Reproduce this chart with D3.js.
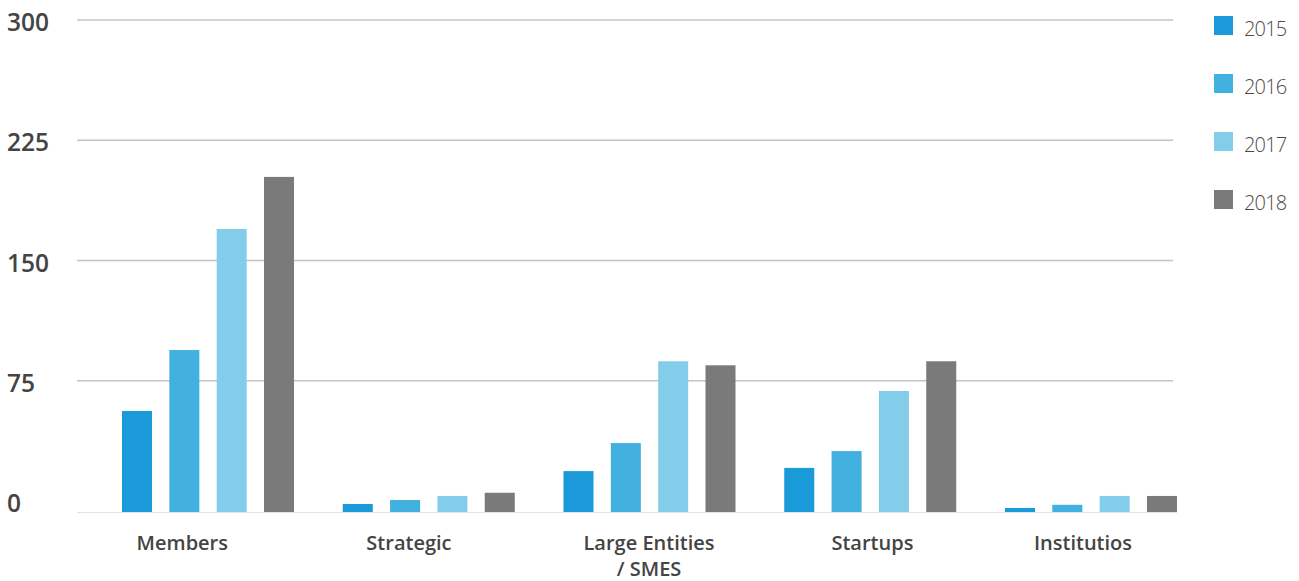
<!DOCTYPE html>
<html>
<head>
<meta charset="utf-8">
<script src="https://cdn.jsdelivr.net/npm/d3@7"></script>
<style>
  html, body { margin: 0; padding: 0; background: #ffffff; }
  svg { display: block; }
</style>
</head>
<body>
<svg id="chart" width="1299" height="581"></svg>
<script>
// Membership counts per category, one array per year
const categories = ["Members", "Strategic", "Large Entities\n/ SMES", "Startups", "Institutios"];
const years = ["2015", "2016", "2017", "2018"];
const values2015 = [63, 5, 25.5, 27.5, 2.5];
const values2016 = [101, 7.5, 43, 38, 4.5];
const values2017 = [176.5, 10, 94, 75.5, 10];
const values2018 = [209, 12, 91.5, 94, 10];
const yTicks = [0, 75, 150, 225, 300];
const colors = ["#1a9ad9", "#42b1e0", "#84cdea", "#7a7a7a"];

const series = [values2015, values2016, values2017, values2018];

const svg = d3.select("#chart");

const margin = { left: 77, right: 1222, top: 31, bottom: 512 };
const gridShift = -11;
// horizontal nudge of each category label relative to its group centre
const labelNudge = [-25.7, -19.8, -0.5, 2.2, -8];

const x0 = d3.scaleBand()
  .domain(categories)
  .range([margin.left, margin.right])
  .paddingInner(0.2208)
  .paddingOuter(0.2039);

const x1 = d3.scaleBand()
  .domain(years)
  .range([0, x0.bandwidth()])
  .paddingInner(0.366)
  .paddingOuter(0);

const y = d3.scaleLinear().domain([0, 300]).range([margin.bottom, margin.top]);

// Horizontal gridlines (zero tick has only its label)
const grid = svg.append("g").attr("transform", `translate(0,${gridShift})`);
grid.selectAll("line")
  .data(yTicks.filter(t => t !== 0))
  .join("line")
  .attr("x1", 77).attr("x2", 1173)
  .attr("y1", d => y(d)).attr("y2", d => y(d))
  .attr("stroke", "#c4c4c4")
  .attr("stroke-width", 1.6);

// Y tick labels
svg.append("g").selectAll("text")
  .data(yTicks)
  .join("text")
  .attr("x", 7)
  .attr("y", d => y(d))
  .attr("font-family", "'Open Sans', 'Noto Sans', sans-serif")
  .attr("font-weight", 600)
  .attr("font-size", 24.5)
  .attr("fill", "#444444")
  .text(d => d);

// Bars
const groups = svg.append("g").selectAll("g")
  .data(categories)
  .join("g")
  .attr("transform", d => `translate(${x0(d)},0)`);

groups.selectAll("rect")
  .data((c, ci) => years.map((yr, si) => ({ yr, v: series[si][ci], si })))
  .join("rect")
  .attr("x", d => x1(d.yr))
  .attr("width", x1.bandwidth())
  .attr("y", d => y(d.v))
  .attr("height", d => y(0) - y(d.v))
  .attr("fill", d => colors[d.si]);

// Baseline
svg.append("line")
  .attr("x1", 77).attr("x2", 1177)
  .attr("y1", y(0) + 0.5).attr("y2", y(0) + 0.5)
  .attr("stroke", "#e2e2e2")
  .attr("stroke-width", 1.2);

// Category labels (multi-line where needed)
const labelX = (d, i) => x0(d) + x0.bandwidth() / 2 + labelNudge[i];
const catLabels = svg.append("g").selectAll("text")
  .data(categories)
  .join("text")
  .attr("y", 549.5)
  .attr("text-anchor", "middle")
  .attr("font-family", "'Open Sans', 'Noto Sans', sans-serif")
  .attr("font-weight", 600)
  .attr("font-size", 20)
  .attr("fill", "#444444");
catLabels.each(function (d, i) {
  const t = d3.select(this);
  d.split("\n").forEach((line, k) => {
    t.append("tspan")
      .attr("x", labelX(d, i))
      .attr("dy", k === 0 ? 0 : 26)
      .text(line);
  });
});

// Legend
const legend = svg.append("g").selectAll("g")
  .data(years)
  .join("g")
  .attr("transform", (d, i) => `translate(1214,${16 + i * 58})`);
legend.append("rect")
  .attr("width", 19).attr("height", 19)
  .attr("fill", (d, i) => colors[i]);
legend.append("text")
  .attr("x", 30)
  .attr("y", 19.5)
  .attr("font-family", "'Open Sans', 'Noto Sans', sans-serif")
  .attr("font-weight", 300)
  .attr("font-size", 20)
  .attr("letter-spacing", -0.8)
  .attr("fill", "#4a4a4a")
  .text(d => d);
</script>
</body>
</html>
